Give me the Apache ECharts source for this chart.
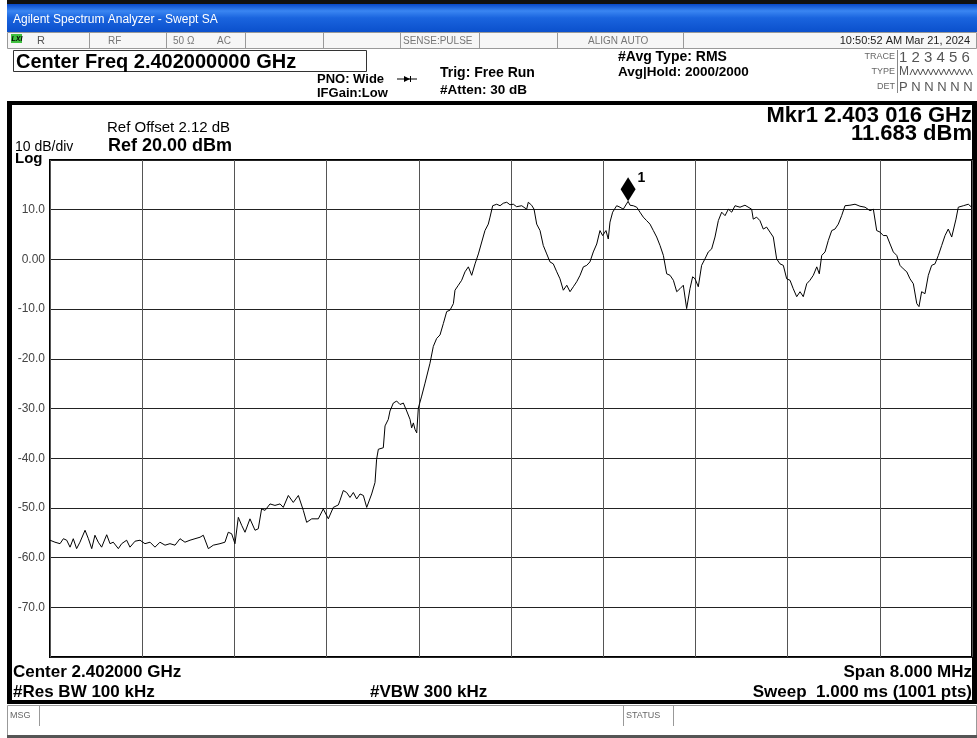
<!DOCTYPE html>
<html>
<head>
<meta charset="utf-8">
<title>Swept SA</title>
<script src="https://cdn.jsdelivr.net/npm/echarts@6/dist/echarts.min.js"></script>
<style>
  html, body { margin: 0; padding: 0; background: #fff; }
  #chart { width: 977px; height: 738px; }
</style>
</head>
<body>
<div id="chart"></div>
<script>
// trace: frequency (MHz) and level (dBm)
const freqMHz = [
  2398.000, 2398.015, 2398.043, 2398.087, 2398.116, 2398.145, 2398.174, 2398.202, 2398.231, 2398.260,
  2398.304, 2398.333, 2398.362, 2398.390, 2398.419, 2398.448, 2398.492, 2398.521, 2398.549, 2398.593,
  2398.622, 2398.665, 2398.694, 2398.738, 2398.781, 2398.824, 2398.868, 2398.911, 2398.954, 2398.998,
  2399.041, 2399.085, 2399.128, 2399.171, 2399.215, 2399.258, 2399.302, 2399.330, 2399.374, 2399.417,
  2399.475, 2399.518, 2399.547, 2399.576, 2399.605, 2399.634, 2399.663, 2399.692, 2399.735, 2399.779,
  2399.807, 2399.836, 2399.866, 2399.909, 2399.952, 2399.996, 2400.024, 2400.068, 2400.111, 2400.155,
  2400.198, 2400.227, 2400.271, 2400.328, 2400.371, 2400.415, 2400.458, 2400.502,
  2400.516, 2400.545, 2400.574, 2400.603, 2400.632, 2400.661, 2400.690, 2400.719, 2400.748, 2400.791,
  2400.820, 2400.834, 2400.849, 2400.892, 2400.907, 2400.935, 2400.950, 2400.979, 2401.008, 2401.037,
  2401.066, 2401.095, 2401.124, 2401.138, 2401.153, 2401.167, 2401.182, 2401.196, 2401.225, 2401.254,
  2401.297, 2401.326, 2401.355, 2401.384, 2401.413, 2401.442, 2401.471, 2401.500, 2401.514, 2401.543,
  2401.572, 2401.601, 2401.630, 2401.659, 2401.688, 2401.717, 2401.746, 2401.774, 2401.803, 2401.818,
  2401.841, 2401.876, 2401.905, 2401.933, 2401.963, 2401.991, 2402.020, 2402.049, 2402.093, 2402.136,
  2402.150, 2402.179, 2402.200, 2402.223, 2402.252, 2402.280, 2402.310, 2402.338, 2402.367, 2402.397,
  2402.425, 2402.454, 2402.484, 2402.512, 2402.541, 2402.570, 2402.599, 2402.628, 2402.657, 2402.685,
  2402.714, 2402.744, 2402.772, 2402.795, 2402.824, 2402.844, 2402.859, 2402.882, 2402.917, 2402.946,
  2402.974, 2403.016, 2403.033, 2403.061, 2403.091, 2403.119, 2403.148, 2403.177, 2403.206, 2403.235,
  2403.264, 2403.293, 2403.322, 2403.351, 2403.380, 2403.409, 2403.438, 2403.466, 2403.495, 2403.524,
  2403.553, 2403.576, 2403.597, 2403.625, 2403.654, 2403.683, 2403.712, 2403.741, 2403.770, 2403.799,
  2403.828, 2403.857, 2403.886, 2403.915, 2403.944, 2403.987, 2404.030,
  2404.088, 2404.102, 2404.131, 2404.160, 2404.189, 2404.218, 2404.247, 2404.276, 2404.305, 2404.334,
  2404.363, 2404.392, 2404.421, 2404.449, 2404.479, 2404.508, 2404.536, 2404.566, 2404.594, 2404.623,
  2404.653, 2404.675, 2404.696, 2404.725, 2404.753, 2404.783, 2404.811, 2404.840, 2404.869, 2404.898,
  2404.941, 2404.985, 2405.028, 2405.072, 2405.115, 2405.144, 2405.173, 2405.202, 2405.230, 2405.260,
  2405.289, 2405.317, 2405.347, 2405.375, 2405.404, 2405.434, 2405.462, 2405.491, 2405.521, 2405.540,
  2405.563, 2405.592, 2405.621, 2405.650, 2405.679, 2405.708, 2405.737, 2405.766, 2405.794, 2405.824,
  2405.838, 2405.861, 2405.881, 2405.925, 2405.968, 2405.997, 2406.000
];
const levelDbm = [
  -56.5, -56.2, -56.9, -57.2, -56.2, -56.5, -57.9, -56.2, -58.2, -56.9,
  -54.5, -56.2, -58.2, -55.5, -56.9, -57.9, -55.4, -57.2, -56.9, -58.2,
  -57.2, -56.5, -57.9, -56.7, -56.5, -57.2, -56.9, -57.9, -56.9, -57.5,
  -57.2, -57.5, -56.2, -56.9, -56.5, -56.2, -55.9, -55.5, -58.2, -57.5,
  -57.2, -56.9, -54.9, -55.2, -57.2, -51.9, -53.5, -54.9, -52.2, -54.5,
  -54.2, -50.2, -50.5, -49.2, -49.5, -49.2, -49.9, -47.5, -48.9, -47.5,
  -50.5, -52.9, -52.2, -52.2, -50.2, -52.2, -49.9, -49.4,
  -48.5, -46.5, -46.9, -47.9, -46.9, -48.2, -47.2, -47.5, -49.9, -47.2,
  -44.9, -40.2, -38.2, -37.9, -33.5, -32.2, -30.5, -28.9, -28.5, -29.2,
  -28.9, -30.5, -32.2, -33.9, -32.9, -34.2, -34.9, -29.9, -27.5, -24.9,
  -20.9, -17.5, -15.9, -15.2, -12.9, -10.5, -10.2, -8.9, -6.2, -5.2,
  -4.2, -2.5, -1.5, -3.2, -0.9, 1.1, 3.5, 5.8, 7.1, 8.5,
  10.8, 11.1, 10.8, 11.3, 11.5, 11.0, 11.1, 10.6, 10.8, 10.1,
  11.5, 10.9, 10.1, 7.1, 5.8, 2.8, 1.1, -0.5, -0.9, -2.5,
  -3.9, -6.2, -5.2, -6.5, -5.5, -4.5, -3.2, -1.5, -1.2, -0.5,
  1.5, 3.1, 5.8, 4.8, 5.8, 4.1, 7.5, 9.5, 10.8, 10.5,
  10.1, 11.683, 10.9, 10.8, 10.5, 9.5, 8.5, 7.8, 7.1, 5.8,
  4.5, 2.8, 0.8, -2.9, -3.2, -4.2, -6.5, -5.9, -5.2, -9.9,
  -5.9, -3.5, -3.9, -5.5, -1.2, 0.1, 1.5, 2.1, 4.5, 7.8,
  9.5, 8.8, 10.1, 9.5, 10.8, 10.5, 10.9,
  10.1, 8.1, 8.5, 7.8, 6.1, 6.5, 5.5, 4.5, 0.1, -0.9,
  -1.2, -3.9, -4.2, -5.9, -7.5, -6.5, -7.5, -4.9, -4.2, -3.2,
  -1.5, -2.9, 0.8, 1.5, 3.8, 5.8, 6.1, 7.1, 8.8, 10.8,
  10.9, 11.1, 10.7, 10.5, 9.8, 10.1, 5.8, 5.5, 4.8, 4.8,
  3.1, 1.5, 0.8, -1.2, -1.9, -2.5, -3.9, -4.9, -8.9, -9.5,
  -6.5, -6.9, -3.2, -1.2, -0.9, 0.8, 2.8, 4.8, 6.1, 4.5,
  4.8, 8.1, 10.5, 10.8, 11.1, 10.5, 10.4
];

const startMHz = 2398;
const spanMHz = 8;
const refLevel = 20;
const bottomLevel = -80;
const dbPerDiv = 10;

const marker1 = { freqMHz: 2403.016, level: 11.683 };

const FONT = '"Liberation Sans", Arial, sans-serif';

const chart = echarts.init(document.getElementById('chart'));

const txt = (x, y, text, size, opts = {}) => ({
  type: 'text', x, y, silent: true,
  style: {
    text,
    font: `${opts.weight || 'normal'} ${size}px ${FONT}`,
    fill: opts.color || '#000',
    align: opts.align || 'left',
    verticalAlign: 'middle'
  }
});
const rect = (x, y, w, h, style) => ({ type: 'rect', silent: true, shape: { x, y, width: w, height: h }, style });
const vline = (x, y1, y2, color) => ({ type: 'line', silent: true, shape: { x1: x, y1, x2: x, y2 }, style: { stroke: color, lineWidth: 1 } });

// little squiggle used for the trace "type" row
const squiggle = [];
for (let i = 0; i <= 24; i++) squiggle.push([910 + i * 2.6, i % 2 ? 69 : 75]);

const rowSeps = [89, 166, 245, 323, 400, 479, 557, 683];

const graphics = [
  // window title bar
  rect(7, 0, 970, 4, { fill: '#111' }),
  rect(7, 4, 970, 28, {
    fill: {
      type: 'linear', x: 0, y: 0, x2: 0, y2: 1,
      colorStops: [
        { offset: 0, color: '#0848c8' },
        { offset: 0.25, color: '#3a86f2' },
        { offset: 0.5, color: '#1a64de' },
        { offset: 1, color: '#0b50cc' }
      ]
    }
  }),
  txt(13, 20, 'Agilent Spectrum Analyzer - Swept SA', 12, { color: '#fff' }),
  // status row
  rect(7.5, 32.5, 969, 16, { fill: '#f6f6f6', stroke: '#999', lineWidth: 1 }),
  ...rowSeps.map(x => vline(x + 0.5, 33, 48, '#999')),
  rect(11, 34, 11, 9, { fill: '#3fbf3f' }),
  txt(11.5, 38.8, 'LXI', 7, { weight: 'bold italic', color: '#000' }),
  txt(37, 41, 'R', 11, { color: '#555' }),
  txt(108, 41, 'RF', 10, { color: '#777' }),
  txt(173, 41, '50 Ω', 10, { color: '#777' }),
  txt(217, 41, 'AC', 10, { color: '#777' }),
  txt(403, 41, 'SENSE:PULSE', 10, { color: '#777' }),
  txt(588, 41, 'ALIGN AUTO', 10, { color: '#777' }),
  txt(970, 41, '10:50:52 AM Mar 21, 2024', 11, { color: '#222', align: 'right' }),
  // settings block
  rect(13.5, 50.5, 353, 21, { fill: 'none', stroke: '#333', lineWidth: 1 }),
  txt(16, 62, 'Center Freq 2.402000000 GHz', 20, { weight: 'bold' }),
  txt(317, 79, 'PNO: Wide', 13, { weight: 'bold' }),
  txt(317, 93, 'IFGain:Low', 13, { weight: 'bold' }),
  { type: 'line', silent: true, shape: { x1: 397, y1: 79, x2: 417, y2: 79 }, style: { stroke: '#000', lineWidth: 1 } },
  { type: 'polygon', silent: true, shape: { points: [[404, 76], [410, 79], [404, 82]] }, style: { fill: '#000' } },
  vline(410.5, 76, 82, '#000'),
  txt(440, 73, 'Trig: Free Run', 14, { weight: 'bold' }),
  txt(440, 90, '#Atten: 30 dB', 13.5, { weight: 'bold' }),
  txt(618, 57, '#Avg Type: RMS', 14, { weight: 'bold' }),
  txt(618, 72, 'Avg|Hold: 2000/2000', 13.5, { weight: 'bold' }),
  txt(895, 57, 'TRACE', 9, { color: '#666', align: 'right' }),
  txt(895, 72, 'TYPE', 9, { color: '#666', align: 'right' }),
  txt(895, 87, 'DET', 9, { color: '#666', align: 'right' }),
  vline(897.5, 50, 93, '#888'),
  txt(899, 58, '1 2 3 4 5 6', 15, { color: '#555' }),
  txt(899, 72, 'M', 12, { color: '#555' }),
  { type: 'polyline', silent: true, shape: { points: squiggle }, style: { stroke: '#555', lineWidth: 1, fill: null } },
  txt(899, 87, 'P N N N N N', 13, { color: '#555' }),
  // display frame
  rect(7, 101, 970, 4, { fill: '#000' }),
  rect(7, 101, 5, 603, { fill: '#000' }),
  rect(972, 101, 5, 603, { fill: '#000' }),
  rect(7, 700, 970, 4, { fill: '#000' }),
  // annotations above the graticule
  txt(107, 128, 'Ref Offset 2.12 dB', 15),
  txt(15, 147, '10 dB/div', 14),
  txt(108, 146, 'Ref 20.00 dBm', 18, { weight: 'bold' }),
  txt(15, 159, 'Log', 15, { weight: 'bold' }),
  txt(972, 116, 'Mkr1 2.403 016 GHz', 22, { weight: 'bold', align: 'right' }),
  txt(972, 134, '11.683 dBm', 22, { weight: 'bold', align: 'right' }),
  // annotations below the graticule
  txt(13, 672, 'Center 2.402000 GHz', 17, { weight: 'bold' }),
  txt(13, 692, '#Res BW 100 kHz', 17, { weight: 'bold' }),
  txt(370, 692, '#VBW 300 kHz', 17, { weight: 'bold' }),
  txt(972, 672, 'Span 8.000 MHz', 17, { weight: 'bold', align: 'right' }),
  txt(972, 692, 'Sweep  1.000 ms (1001 pts)', 17, { weight: 'bold', align: 'right' }),
  // message / status bar
  rect(7.5, 705.5, 969, 30, { fill: '#fff', stroke: '#999', lineWidth: 1 }),
  rect(7, 735, 970, 3, { fill: '#555' }),
  vline(39.5, 706, 726, '#999'),
  vline(623.5, 706, 726, '#999'),
  vline(673.5, 706, 726, '#999'),
  txt(10, 716, 'MSG', 9, { color: '#666' }),
  txt(626, 716, 'STATUS', 9, { color: '#666' })
];

const option = {
  backgroundColor: '#fff',
  animation: false,
  grid: {
    left: 50, top: 160, width: 922, height: 497,
    show: true, borderColor: '#000', borderWidth: 2, backgroundColor: '#fff'
  },
  xAxis: {
    type: 'value', min: 0, max: spanMHz, interval: spanMHz / 10,
    axisLabel: { show: false }, axisTick: { show: false }, axisLine: { show: false },
    splitLine: { show: true, lineStyle: { color: '#555', width: 1 } }
  },
  yAxis: {
    type: 'value', min: bottomLevel, max: refLevel, interval: dbPerDiv,
    axisTick: { show: false }, axisLine: { show: false },
    splitLine: { show: true, lineStyle: { color: '#222', width: 1 } },
    axisLabel: {
      color: '#444', fontSize: 12, fontFamily: FONT, margin: 5,
      formatter: v => (v === refLevel || v === bottomLevel) ? '' : (v === 0 ? '0.00' : v.toFixed(1))
    }
  },
  series: [{
    type: 'line',
    data: freqMHz.map((f, i) => [f - startMHz, levelDbm[i]]),
    showSymbol: false,
    lineStyle: { color: '#000', width: 1 },
    silent: true,
    markPoint: {
      symbol: 'diamond',
      symbolSize: [15, 24],
      symbolOffset: [0, -12],
      itemStyle: { color: '#000' },
      label: {
        show: true, formatter: '1', position: [17, -6],
        color: '#000', fontSize: 14, fontWeight: 'bold', fontFamily: FONT
      },
      data: [{ coord: [marker1.freqMHz - startMHz, marker1.level] }]
    }
  }],
  graphic: graphics
};

chart.setOption(option);
</script>
</body>
</html>
